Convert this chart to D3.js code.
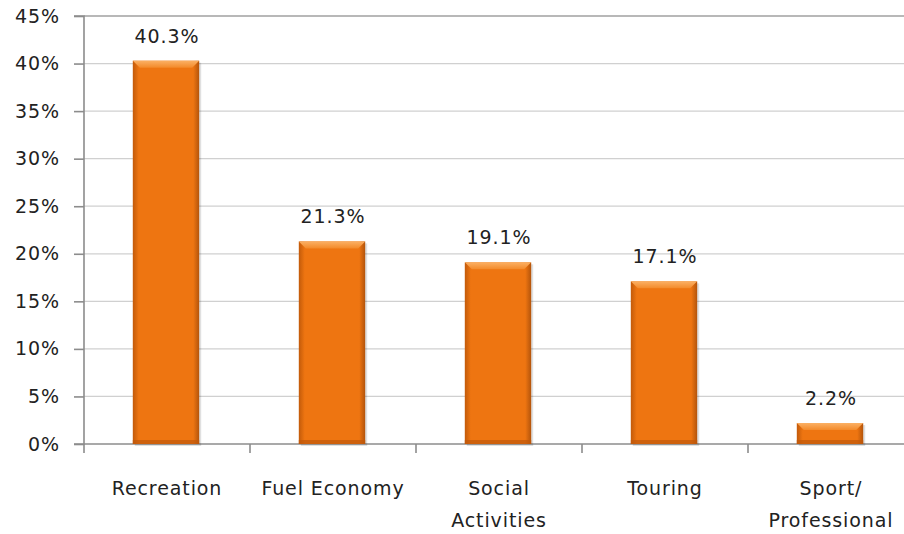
<!DOCTYPE html>
<html>
<head>
<meta charset="utf-8">
<script src="https://cdn.jsdelivr.net/npm/d3@7"></script>
<style>
  body { margin: 0; background: #fff; }
  text { font-family: "DejaVu Sans", sans-serif; fill: #222; letter-spacing: 0.9px; }
</style>
</head>
<body>
<svg id="chart" width="904" height="534"></svg>
<script>
const categories = ["Recreation", "Fuel Economy", "Social\nActivities", "Touring", "Sport/\nProfessional"];
const values = [40.3, 21.3, 19.1, 17.1, 2.2];
const yTicks = [0, 5, 10, 15, 20, 25, 30, 35, 40, 45];

const margin = { top: 16, left: 84, bottom: 90, right: -10 };
const width = 904 - margin.left - margin.right;
const height = 534 - margin.top - margin.bottom;

const svg = d3.select("#chart");
const defs = svg.append("defs");

// body gradient: darker at the sides
const grad = defs.append("linearGradient").attr("id", "barBody").attr("x1", 0).attr("x2", 1).attr("y1", 0).attr("y2", 0);
grad.append("stop").attr("offset", "0%").attr("stop-color", "#c25a0a");
grad.append("stop").attr("offset", "9%").attr("stop-color", "#ee7511");
grad.append("stop").attr("offset", "91%").attr("stop-color", "#ee7511");
grad.append("stop").attr("offset", "100%").attr("stop-color", "#b3540b");

const topGrad = defs.append("linearGradient").attr("id", "barTop").attr("x1", 0).attr("x2", 0).attr("y1", 0).attr("y2", 1);
topGrad.append("stop").attr("offset", "0%").attr("stop-color", "#fbb064");
topGrad.append("stop").attr("offset", "100%").attr("stop-color", "#f38a2a");

const g = svg.append("g").attr("transform", `translate(${margin.left},${margin.top})`);

const x = d3.scaleBand().domain(categories).range([0, width]).paddingInner(0.6).paddingOuter(0.3);
const y = d3.scaleLinear().domain([0, 45]).range([height, 0]);

// gridlines
g.append("g").selectAll("line").data(yTicks.filter(d => d > 0)).enter().append("line")
  .attr("x1", 0).attr("x2", width)
  .attr("y1", d => y(d)).attr("y2", d => y(d))
  .attr("stroke", d => d === 45 ? "#a0a0a0" : "#d0d0d0")
  .attr("stroke-width", d => d === 45 ? 1.6 : 1.3);

// y axis
const yAxis = d3.axisLeft(y).tickValues(yTicks).tickFormat(d => d + "%").tickSize(10).tickPadding(14);
const ya = g.append("g").call(yAxis);
ya.select(".domain").attr("stroke", "#8c8c8c").attr("stroke-width", 1.6).attr("d", `M-10,0H0V${height}H-10`);
ya.selectAll(".tick line").attr("stroke", "#8c8c8c").attr("stroke-width", 1.6);
ya.selectAll(".tick text").style("font-size", "19px").attr("fill", "#222");

// x axis baseline and category ticks
g.append("line").attr("x1", 0).attr("x2", width).attr("y1", height).attr("y2", height)
  .attr("stroke", "#8c8c8c").attr("stroke-width", 1.6);
g.append("g").selectAll("line").data(d3.range(categories.length + 1)).enter().append("line")
  .attr("x1", i => i * width / categories.length).attr("x2", i => i * width / categories.length)
  .attr("y1", height).attr("y2", height + 9)
  .attr("stroke", "#8c8c8c").attr("stroke-width", 1.6);

// bars
const bars = g.append("g").selectAll("g").data(values).enter().append("g")
  .attr("transform", (d, i) => `translate(${x(categories[i]) - 1},0)`);
const bw = x.bandwidth();

bars.append("rect")
  .attr("x", 2).attr("y", d => y(d) + 2)
  .attr("width", bw).attr("height", d => height - y(d))
  .attr("fill", "#000").attr("opacity", 0.12);
bars.append("rect")
  .attr("x", 0).attr("y", d => y(d))
  .attr("width", bw).attr("height", d => height - y(d))
  .attr("fill", "url(#barBody)");
bars.append("rect")
  .attr("x", 0).attr("y", d => height - 4)
  .attr("width", bw).attr("height", 4)
  .attr("fill", "#c0590b").attr("opacity", 0.7);
bars.append("path")
  .attr("d", d => {
    const t = y(d);
    return `M0,${t}H${bw}L${bw - 7},${t + 7}H7Z`;
  })
  .attr("fill", "url(#barTop)");

// value labels
bars.append("text")
  .attr("x", bw / 2 + 1).attr("y", d => y(d) - 18)
  .attr("text-anchor", "middle")
  .style("font-size", "19px")
  .text(d => d.toFixed(1) + "%");

// category labels
const labels = g.append("g").selectAll("text").data(categories).enter().append("text")
  .attr("x", d => x(d) + bw / 2)
  .attr("y", height + 51)
  .attr("text-anchor", "middle")
  .style("font-size", "19px");
labels.each(function(d) {
  const lines = d.split("\n");
  d3.select(this).selectAll("tspan").data(lines).enter().append("tspan")
    .attr("x", x(d) + bw / 2)
    .attr("dy", (l, i) => i === 0 ? 0 : 32)
    .text(l => l);
});
</script>
</body>
</html>
